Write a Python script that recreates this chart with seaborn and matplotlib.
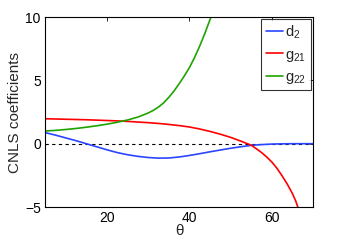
import numpy as np
import pandas as pd
import matplotlib
matplotlib.use("Agg")
import matplotlib.pyplot as plt
import seaborn as sns

# values
theta_d2 = [5, 7.5, 10, 12.5, 15, 17.5, 20, 22.5, 25, 27.5, 30, 32.5, 35, 37.5,
            40, 42.5, 45, 47.5, 50, 52.5, 55, 57.5, 60, 62.5, 65, 67.5, 70]
d2 = [0.88, 0.68, 0.46, 0.24, 0.0, -0.24, -0.48, -0.70, -0.87, -1.0, -1.09, -1.14,
      -1.13, -1.05, -0.93, -0.79, -0.64, -0.5, -0.36, -0.24, -0.13, -0.07, -0.03,
      -0.01, 0.0, 0.0, 0.0]

theta_g21 = [5, 7.5, 10, 12.5, 15, 17.5, 20, 22.5, 25, 27.5, 30, 32.5, 35, 37.5,
             40, 42.5, 45, 47.5, 50, 52.5, 53.75, 55, 56.25, 57.5, 58.75, 60,
             61.25, 62.5, 63.75, 65, 65.75, 66.5]
g21 = [1.97, 1.95, 1.93, 1.91, 1.89, 1.86, 1.83, 1.80, 1.76, 1.71, 1.66, 1.60,
       1.52, 1.43, 1.32, 1.16, 0.97, 0.75, 0.50, 0.20, 0.04, -0.12, -0.40, -0.70,
       -1.05, -1.45, -1.95, -2.55, -3.2, -3.95, -4.5, -5.2]

theta_g22 = [5, 7.5, 10, 12.5, 15, 17.5, 20, 22.5, 25, 27.5, 30, 31.25, 32.5,
             33.75, 35, 36.25, 37.5, 38.75, 40, 41.25, 42.5, 43.75, 45, 46]
g22 = [1.0, 1.05, 1.12, 1.2, 1.3, 1.41, 1.54, 1.69, 1.87, 2.1, 2.42, 2.63, 2.89,
       3.22, 3.65, 4.15, 4.72, 5.33, 6.0, 6.8, 7.7, 8.7, 9.8, 10.6]

labels = ["d$_2$", "g$_{21}$", "g$_{22}$"]
colors = ["#2b45ff", "#ff0000", "#1fa300"]

df = pd.concat([
    pd.DataFrame({"theta": theta_d2, "value": d2, "coef": labels[0]}),
    pd.DataFrame({"theta": theta_g21, "value": g21, "coef": labels[1]}),
    pd.DataFrame({"theta": theta_g22, "value": g22, "coef": labels[2]}),
])

sns.set_style("white")
plt.rcParams["font.family"] = ["Liberation Sans", "DejaVu Sans"]
plt.rcParams["mathtext.default"] = "regular"

fig = plt.figure(figsize=(3.46, 2.43), dpi=100)
ax = fig.add_axes([0.130, 0.148, 0.775, 0.782])

ax.axhline(0, color="black", ls=(0, (3, 3)), lw=0.8, zorder=1)
sns.lineplot(data=df, x="theta", y="value", hue="coef", palette=colors,
             sort=False, estimator=None, lw=1.2, ax=ax, zorder=2)

ax.set_xlim(5, 70)
ax.set_ylim(-5, 10)
ax.set_xticks([20, 40, 60])
ax.set_yticks([-5, 0, 5, 10])
ax.set_yticklabels(["\u22125", "0", "5", "10"])
ax.tick_params(direction="in", length=3, width=0.6, top=True, right=True,
               labelsize=10, pad=3, colors="black")
for s in ax.spines.values():
    s.set_color("black")
    s.set_linewidth(0.8)

ax.set_xlabel("\u03b8", fontsize=11, labelpad=-1)
ax.set_ylabel("CNLS coefficients", fontsize=11, labelpad=2)

handles, _ = ax.get_legend_handles_labels()
leg = ax.legend(handles, labels, loc="upper right", fontsize=10.5, frameon=True,
                fancybox=False, edgecolor="black", handlelength=1.2,
                handletextpad=0.15, borderpad=0.3, labelspacing=0.45,
                borderaxespad=0.15)
leg.get_frame().set_linewidth(0.8)

fig.savefig("out.png", dpi=100)
